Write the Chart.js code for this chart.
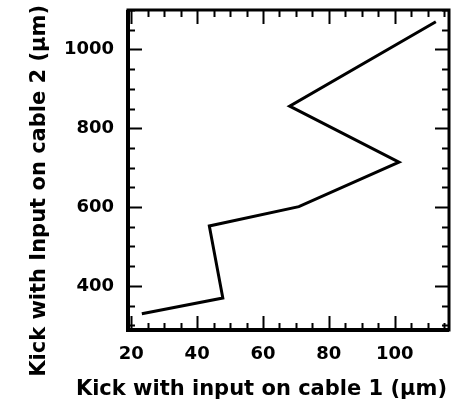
<!DOCTYPE html>
<html>
<head>
<meta charset="utf-8">
<script src="https://cdn.jsdelivr.net/npm/chart.js@4"></script>
<style>
  html, body { margin: 0; padding: 0; background: #fff; }
  #wrap { width: 454px; height: 405px; }
</style>
</head>
<body>
<div id="wrap"><canvas id="chart" width="454" height="405"></canvas></div>
<script>
// kick with input on cable 1 vs cable 2 (um)
const cable1 = [23.2, 47.8, 43.7, 70.9, 101.3, 68.1, 112.5];
const cable2 = [329, 369, 552, 601, 714, 856, 1070];

const xTicks = [20, 40, 60, 80, 100];
const yTicks = [400, 600, 800, 1000];
const xMinor = 5;
const yMinor = 50;

const xTitle = 'Kick with input on cable 1 (\u03bcm)';
const yTitle = 'Kick with Input on cable 2 (\u03bcm)';

const font = "'DejaVu Sans', 'Liberation Sans', sans-serif";

// inward ticks on all four sides, like the old-style frame
const frameTicks = {
    id: 'frameTicks',
    afterDraw(chart) {
        const c = chart.ctx;
        const a = chart.chartArea;
        const xs = chart.scales.x, ys = chart.scales.y;
        c.save();
        c.strokeStyle = '#000';
        c.lineWidth = 2;
        c.beginPath();
        for (let v = Math.ceil(xs.min / xMinor) * xMinor; v <= xs.max; v += xMinor) {
            const px = Math.round(xs.getPixelForValue(v)) + 0.5;
            const len = xTicks.includes(v) ? 14 : 7;
            c.moveTo(px, a.bottom); c.lineTo(px, a.bottom - len);
            c.moveTo(px, a.top); c.lineTo(px, a.top + len);
        }
        for (let v = Math.ceil(ys.min / yMinor) * yMinor; v <= ys.max; v += yMinor) {
            const py = Math.round(ys.getPixelForValue(v)) + 0.5;
            const len = yTicks.includes(v) ? 14 : 7;
            c.moveTo(a.left, py); c.lineTo(a.left + len, py);
            c.moveTo(a.right, py); c.lineTo(a.right - len, py);
        }
        c.stroke();
        c.lineWidth = 3;
        c.strokeRect(a.left, a.top, a.right - a.left, a.bottom - a.top);
        c.lineWidth = 4;
        c.beginPath();
        c.moveTo(a.left, a.top); c.lineTo(a.left, a.bottom); c.lineTo(a.right, a.bottom);
        c.stroke();

        // axis titles (drawn here so chart.js does not squeeze them to the axis length)
        c.fillStyle = '#000';
        c.font = 'bold 21px ' + font;
        c.textBaseline = 'middle';
        c.textAlign = 'right';
        c.fillText(xTitle, 447, 390);
        c.translate(40, 5);
        c.rotate(-Math.PI / 2);
        c.fillText(yTitle, 0, 0);
        c.restore();
    }
};

new Chart(document.getElementById('chart'), {
    type: 'scatter',
    data: {
        datasets: [{
            data: cable1.map((x, i) => ({ x: x, y: cable2[i] })),
            showLine: true,
            borderColor: '#000',
            borderWidth: 3,
            pointRadius: 0,
            tension: 0
        }]
    },
    options: {
        responsive: false,
        animation: false,
        layout: { padding: { top: 10, right: 5, left: 0, bottom: 0 } },
        plugins: { legend: { display: false }, tooltip: { enabled: false } },
        scales: {
            x: {
                type: 'linear',
                min: 19,
                max: 116.5,
                afterBuildTicks: s => { s.ticks = xTicks.map(v => ({ value: v })); },
                afterFit: s => { s.height = 75; },
                grid: { display: false },
                border: { display: false },
                ticks: { color: '#000', font: { family: font, size: 18, weight: 'bold' }, padding: 6, maxRotation: 0,
                         callback: v => String(v) },
                title: { display: false }
            },
            y: {
                type: 'linear',
                min: 288,
                max: 1100,
                afterBuildTicks: s => { s.ticks = yTicks.map(v => ({ value: v })); },
                afterFit: s => { s.width = 128; s.paddingTop = 0; s.paddingBottom = 0; },
                grid: { display: false },
                border: { display: false },
                ticks: { color: '#000', font: { family: font, size: 18, weight: 'bold' }, padding: 6,
                         callback: v => String(v) },
                title: { display: false }
            }
        }
    },
    plugins: [frameTicks]
});
</script>
</body>
</html>
